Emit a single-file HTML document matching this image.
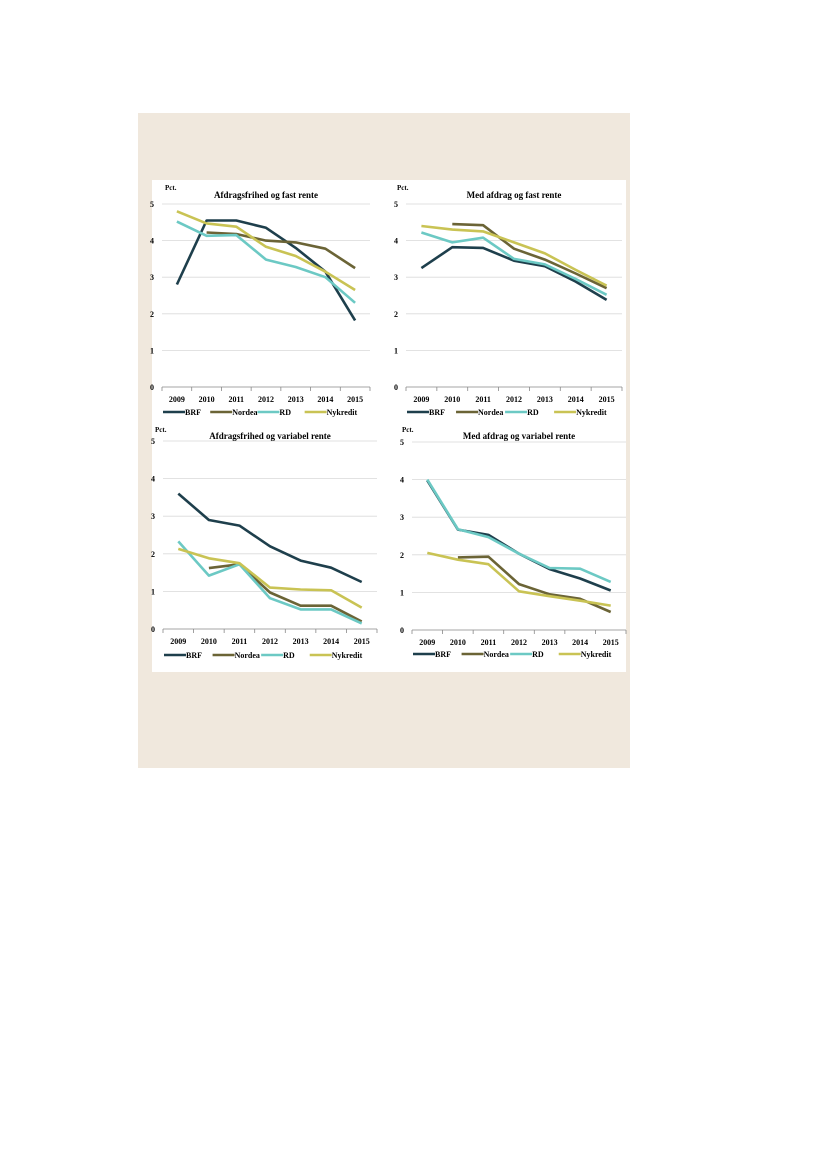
<!DOCTYPE html>
<html><head><meta charset="utf-8"><style>
body{margin:0;background:#fff;width:827px;height:1169px;position:relative;overflow:hidden}
svg{position:absolute;left:0;top:0}
text{font-family:"Liberation Serif",serif;font-weight:bold;fill:#000}
</style></head><body>
<svg id="s" width="827" height="1169" xmlns="http://www.w3.org/2000/svg">
<rect x="138" y="113" width="492" height="655" fill="#f0e8dd"/>
<rect x="152" y="180" width="474" height="492" fill="#fff"/>
</svg>
<script>
const C=['#1e3f4c','#6b6436','#6cc9c4','#c9c354'],N=['BRF','Nordea','RD','Nykredit'];
const charts=[
{x0:162,x1:370,y5:204,y0:387,t:'Afdragsfrihed  og fast rente',ty:198,py:190,px:165,ly:412,
d:[[2.8,4.55,4.55,4.35,3.8,3.15,1.82],[null,4.22,4.18,4.0,3.95,3.78,3.25],[4.52,4.13,4.15,3.48,3.28,3.0,2.3],[4.8,4.47,4.38,3.83,3.58,3.15,2.65]]},
{x0:406,x1:622,y5:204,y0:387,t:'Med afdrag og fast rente',ty:198,py:190,px:397,ly:412,
d:[[3.25,3.82,3.8,3.45,3.3,2.88,2.38],[null,4.45,4.42,3.78,3.48,3.1,2.7],[4.22,3.95,4.08,3.5,3.35,2.95,2.52],[4.4,4.3,4.25,3.95,3.65,3.2,2.77]]},
{x0:163,x1:377,y5:441,y0:629,t:'Afdragsfrihed  og variabel rente',ty:439,py:432,px:155,ly:655,
d:[[3.6,2.9,2.75,2.2,1.82,1.63,1.25],[null,1.62,1.72,0.97,0.62,0.62,0.2],[2.33,1.42,1.72,0.82,0.52,0.52,0.15],[2.13,1.88,1.75,1.1,1.05,1.03,0.57]]},
{x0:412,x1:626,y5:442,y0:630,t:'Med afdrag og variabel rente',ty:439,py:432,px:402,ly:654,
d:[[3.98,2.67,2.53,2.03,1.62,1.37,1.05],[null,1.93,1.95,1.22,0.95,0.83,0.48],[4.0,2.68,2.47,2.03,1.65,1.63,1.28],[2.05,1.87,1.75,1.03,0.9,0.78,0.65]]}];
let h='';
for(const c of charts){
 const w=(c.x1-c.x0)/7,Y=v=>c.y0-(c.y0-c.y5)*v/5,X=i=>c.x0+w*(i+.5);
 for(let k=1;k<=5;k++)h+=`<line x1="${c.x0}" x2="${c.x1}" y1="${Y(k)}" y2="${Y(k)}" stroke="#d9d9d9" stroke-width="0.8"/>`;
 h+=`<line x1="${c.x0}" x2="${c.x1}" y1="${c.y0}" y2="${c.y0}" stroke="#888" stroke-width="0.8"/>`;
 for(let i=0;i<=7;i++)h+=`<line x1="${c.x0+w*i}" x2="${c.x0+w*i}" y1="${c.y0}" y2="${c.y0+4}" stroke="#888" stroke-width="0.8"/>`;
 for(let k=0;k<=5;k++)h+=`<text x="${c.x0-8}" y="${Y(k)+3}" font-size="8" text-anchor="end">${k}</text>`;
 for(let i=0;i<7;i++)h+=`<text x="${X(i)}" y="${c.y0+15}" font-size="8" text-anchor="middle">${2009+i}</text>`;
 h+=`<text x="${c.px}" y="${c.py}" font-size="7">Pct.</text>`;
 h+=`<text x="${(c.x0+c.x1)/2}" y="${c.ty}" font-size="9" text-anchor="middle">${c.t}</text>`;
 c.d.forEach((s,j)=>{let p=[];s.forEach((v,i)=>{if(v!=null)p.push(X(i).toFixed(1)+','+Y(v).toFixed(1))});
  h+=`<polyline points="${p.join(' ')}" fill="none" stroke="${C[j]}" stroke-width="2.6" stroke-linejoin="round"/>`;});
 const lw=(c.x1-c.x0)*0.227;
 N.forEach((n,j)=>{const lx=c.x0+1+lw*j;h+=`<line x1="${lx}" x2="${lx+22}" y1="${c.ly}" y2="${c.ly}" stroke="${C[j]}" stroke-width="2.6"/><text x="${lx+22}" y="${c.ly+3}" font-size="8">${n}</text>`;});
}
document.getElementById('s').insertAdjacentHTML('beforeend',h);
</script>
</body></html>
